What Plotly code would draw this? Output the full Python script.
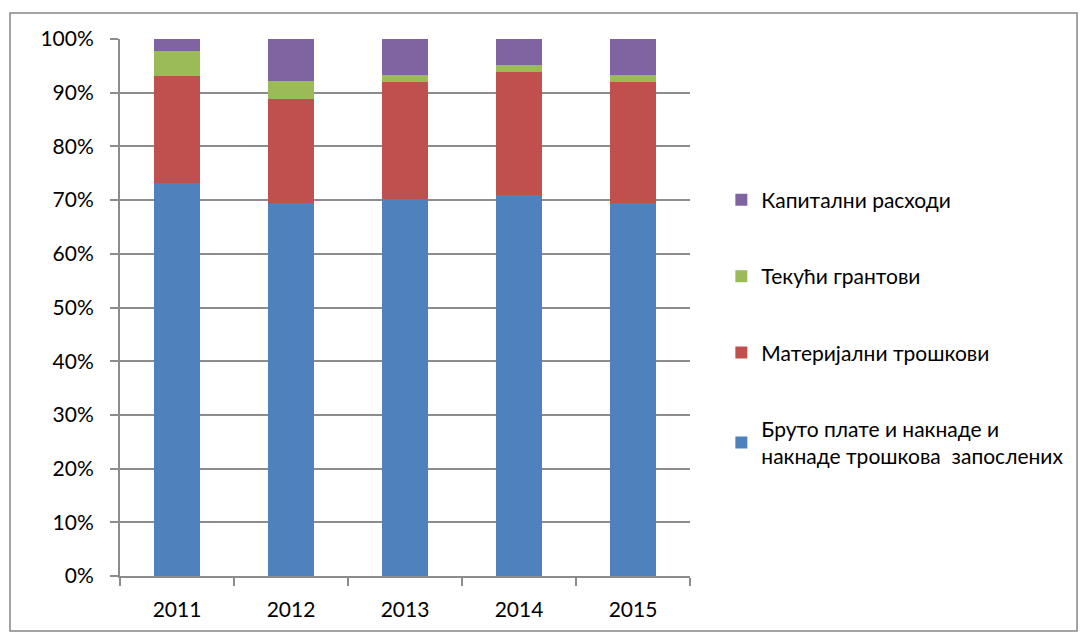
import plotly.graph_objects as go

years = ["2011", "2012", "2013", "2014", "2015"]
bruto = [73.1, 69.5, 70.2, 71.0, 69.5]
materijalni = [20.1, 19.3, 21.8, 22.9, 22.5]
grantovi = [4.5, 3.4, 1.3, 1.3, 1.3]
kapitalni = [2.3, 7.8, 6.7, 4.8, 6.7]

series = [
    ("Бруто плате и накнаде и<br>накнаде трошкова  запослених", bruto, "#4f81bd"),
    ("Материјални трошкови", materijalni, "#c0504d"),
    ("Текући грантови", grantovi, "#9bbb59"),
    ("Капитални расходи", kapitalni, "#8064a2"),
]

fig = go.Figure()
for i, (name, vals, col) in enumerate(series):
    fig.add_trace(go.Bar(x=years, y=vals, name=name, marker_color=col,
                         marker_line_width=0, legendgroup=str(i),
                         legendrank=len(series) - i))

grid = "#8c8c8c"
fig.update_layout(
    barmode="stack",
    bargap=0.59,
    width=1079, height=631,
    margin=dict(l=112, r=397, t=31, b=63, autoexpand=False),
    plot_bgcolor="white", paper_bgcolor="white",
    font=dict(family="Lato, Open Sans, sans-serif", size=21, color="#000"),
    legend=dict(x=1.055, y=0.738, xanchor="left", yanchor="top",
                traceorder="grouped", tracegroupgap=46,
                font=dict(size=21), itemwidth=30),
    xaxis=dict(type="category", showline=True, linecolor=grid, linewidth=2,
               ticks="outside", tickson="boundaries", ticklen=8, tickcolor=grid,
               tickwidth=2, showgrid=False, ticklabelstandoff=14),
    yaxis=dict(range=[0, 100], dtick=10, ticksuffix="%", showgrid=True,
               gridcolor=grid, gridwidth=2, showline=True, linecolor=grid,
               linewidth=2, ticks="outside", ticklen=8, tickcolor=grid,
               tickwidth=2, zeroline=False, ticklabelstandoff=12),
    shapes=[dict(type="rect", xref="paper", yref="paper",
                 x0=-0.193, x1=1.679, y0=-0.1024, y1=1.0484,
                 line=dict(color="#868686", width=1.5), fillcolor="rgba(0,0,0,0)",
                 layer="below")],
)
fig.write_html("out.html")
